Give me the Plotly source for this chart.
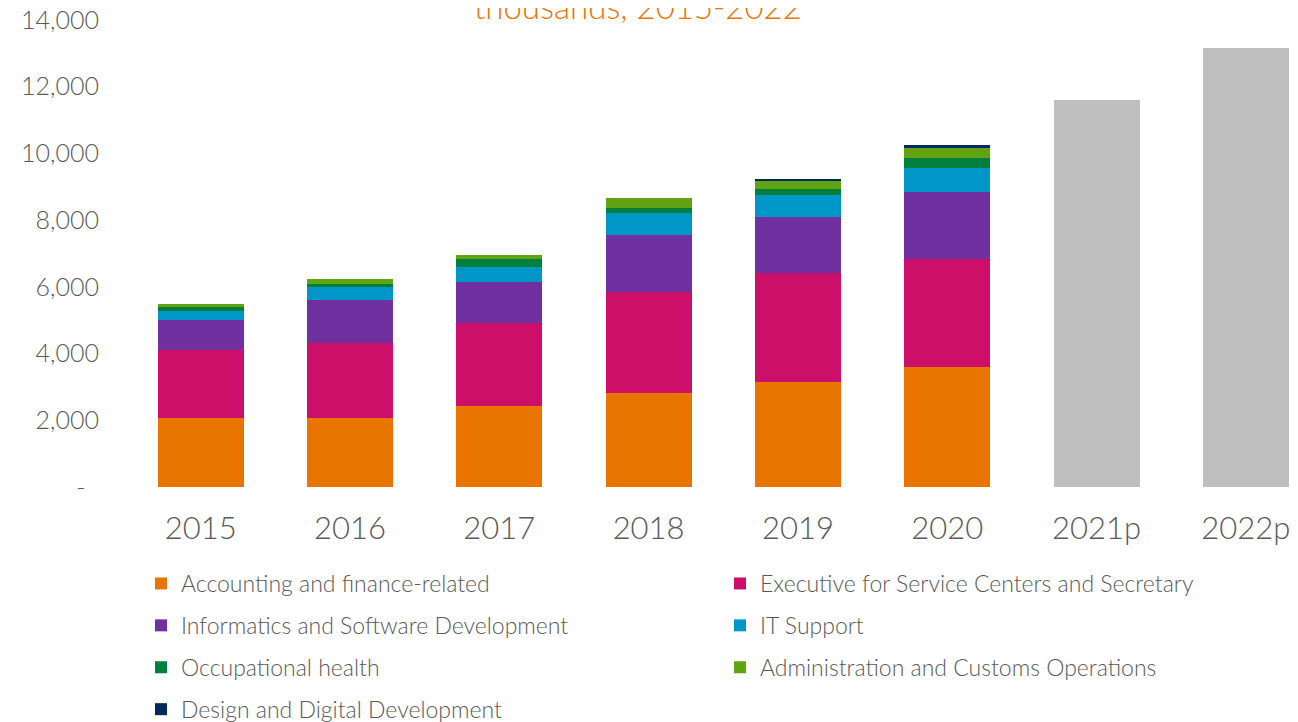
import plotly.graph_objects as go

years = ["2015", "2016", "2017", "2018", "2019", "2020", "2021p", "2022p"]
hist_years = years[:6]
forecast_years = years[6:]

accounting = [2069, 2069, 2428, 2827, 3157, 3598]
executive = [2029, 2248, 2480, 3019, 3248, 3228]
informatics = [900, 1280, 1229, 1709, 1675, 2027]
it_support = [279, 408, 468, 650, 674, 702]
occupational = [119, 72, 221, 169, 180, 318]
administration = [81, 159, 129, 281, 255, 299]
design = [0, 0, 0, 0, 15, 72]
forecast_total = [11600, 13160]

y_ticks = [0, 2000, 4000, 6000, 8000, 10000, 12000, 14000]
y_tick_text = ["-\u00a0\u00a0", "2,000", "4,000", "6,000", "8,000", "10,000", "12,000", "14,000"]

series = [
    ("Accounting and finance-related", accounting, "#E87500", "legend"),
    ("Executive for Service Centers and Secretary", executive, "#CC0F69", "legend2"),
    ("Informatics and Software Development", informatics, "#7030A0", "legend"),
    ("IT Support", it_support, "#0096C8", "legend2"),
    ("Occupational health", occupational, "#00803C", "legend"),
    ("Administration and Customs Operations", administration, "#62A314", "legend2"),
    ("Design and Digital Development", design, "#002A5C", "legend"),
]

font_family = "Lato"
grey_text = "#595959"

fig = go.Figure()
for name, vals, color, leg in series:
    fig.add_trace(go.Bar(x=hist_years, y=vals, name=name, marker_color=color,
                         marker_line_width=0, legend=leg, legendgroup=name))

fig.add_trace(go.Bar(x=forecast_years, y=forecast_total, name="Forecast",
                     marker_color="#BFBFBF", marker_line_width=0, showlegend=False))

legend_style = dict(
    orientation="v", xref="container", yref="container", xanchor="left", yanchor="top",
    font=dict(family=font_family, size=23, color=grey_text, weight=300),
    tracegroupgap=9, itemwidth=30, bgcolor="rgba(0,0,0,0)", traceorder="grouped",
)

# page has an 8px body margin, so the figure itself sits 8px right and down
fig.update_layout(
    barmode="stack",
    bargap=0.424,
    width=1298, height=722,
    margin=dict(l=118, r=0, t=12, b=243, autoexpand=False),
    plot_bgcolor="white", paper_bgcolor="white",
    font=dict(family=font_family, color=grey_text, weight=300),
    legend=dict(x=133 / 1298, y=1 - 554 / 722, **legend_style),
    legend2=dict(x=712 / 1298, y=1 - 554 / 722, **legend_style),
    xaxis=dict(range=[-0.5, 7.403], showgrid=False, showline=False, ticks="",
               tickfont=dict(size=31, color=grey_text), ticklabelstandoff=20,
               tickangle=0, automargin=False),
    yaxis=dict(range=[0, 14000], tickvals=y_ticks, ticktext=y_tick_text,
               showgrid=False, showline=False, zeroline=False, ticks="",
               tickfont=dict(size=25, color=grey_text), ticklabelstandoff=26,
               ticklabeloverflow="allow", automargin=False),
    showlegend=True,
)

fig.add_annotation(text="thousands, 2015-2022*", xref="paper", yref="paper",
                   x=(645 - 126) / 1180, y=1 - 8 / 467, xanchor="center", yanchor="bottom",
                   showarrow=False,
                   font=dict(family=font_family, size=33, color="#E87500", weight=300))

fig.write_html("out.html")
